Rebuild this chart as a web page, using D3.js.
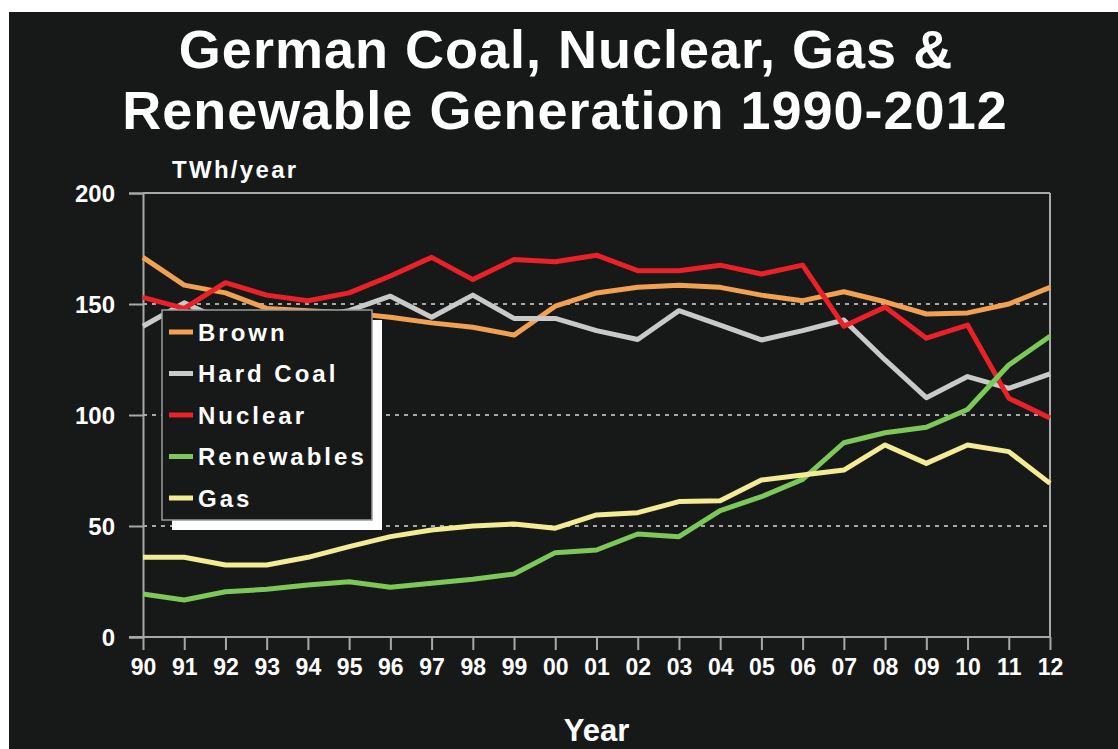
<!DOCTYPE html>
<html>
<head>
<meta charset="utf-8">
<script src="https://cdn.jsdelivr.net/npm/d3@7"></script>
<style>
  html, body { margin: 0; padding: 0; background: #ffffff; }
  svg { display: block; }
  text { font-family: "Liberation Sans", Arial, sans-serif; font-weight: bold; fill: #ffffff; }
</style>
</head>
<body>
<svg id="chart" width="1118" height="749"></svg>
<script>
const years = ["90","91","92","93","94","95","96","97","98","99","00","01","02","03","04","05","06","07","08","09","10","11","12"];
const brown      = [171,158.5,155,148,147,146,144,141.5,139.5,136,149,155,157.5,158.5,157.5,154,151.5,155.5,151,145.5,146,150,157.5];
const hardCoal   = [140,150.5,142,146,144,147,153.5,144,154,143.5,143.5,138,134,147,140.5,133.8,138,142.8,124.8,107.8,117.3,112,118.5];
const nuclear    = [153,148,159.6,154,151.5,155,162.6,171,161,170,169,172,165,165,167.5,163.5,167.5,140,148.6,134.6,140.5,107.6,98.6];
const renewables = [19.4,16.7,20.4,21.5,23.4,24.9,22.4,24.2,26,28.4,38,39.2,46.4,45.2,56.9,63.2,71,87.5,92,94.5,102.5,122.5,135.5];
const gas        = [35.9,35.9,32.4,32.4,35.9,40.7,45.2,48.2,50,50.9,49,55,56,61,61.4,70.7,73,75.2,86.5,78.2,86.5,83.5,69.2];
const yTicks = [0,50,100,150,200];
const seriesNames  = ["Brown","Hard Coal","Nuclear","Renewables","Gas"];
const seriesColors = ["#f2a052","#c9c9c9","#ea2128","#7cc95a","#f3eb95"];
const seriesValues = [brown, hardCoal, nuclear, renewables, gas];
const titleLines = ["German Coal, Nuclear, Gas &","Renewable Generation 1990-2012"];

const svg = d3.select("#chart");
svg.append("rect").attr("x",9).attr("y",12).attr("width",1118-9).attr("height",749-12).attr("fill","#171918");

const pL = 143, pR = 1050, pT = 193, pB = 637;
const x = d3.scalePoint().domain(years).range([pL, pR]);
const y = d3.scaleLinear().domain([0,200]).range([pB, pT]);

svg.append("text").attr("x",566).attr("y",68).attr("text-anchor","middle")
  .style("font-size","54px").style("letter-spacing","1px").text(titleLines[0]);
svg.append("text").attr("x",565).attr("y",129).attr("text-anchor","middle")
  .style("font-size","54px").style("letter-spacing","1px").text(titleLines[1]);
svg.append("text").attr("x",172).attr("y",178).style("font-size","24px").style("letter-spacing","2.3px").text("TWh/year");

svg.append("g").selectAll("line").data([50,100,150]).join("line")
  .attr("x1",pL).attr("x2",pR).attr("y1",d=>y(d)).attr("y2",d=>y(d))
  .attr("stroke","#a8a8a8").attr("stroke-width",2).attr("stroke-dasharray","4 5");

svg.append("line").attr("x1",pL).attr("x2",pR).attr("y1",y(200)).attr("y2",y(200)).attr("stroke","#a8a8a8").attr("stroke-width",2);
svg.append("line").attr("x1",pR).attr("x2",pR).attr("y1",pT).attr("y2",pB).attr("stroke","#a8a8a8").attr("stroke-width",2);

const yAxis = svg.append("g").attr("transform",`translate(${pL},0)`)
  .call(d3.axisLeft(y).tickValues(yTicks).tickSize(14).tickPadding(14).tickFormat(d3.format("d")));
yAxis.select(".domain").attr("stroke","#a8a8a8").attr("stroke-width",2);
yAxis.selectAll(".tick line").attr("stroke","#a8a8a8").attr("stroke-width",2);
yAxis.selectAll(".tick text").attr("fill","#ffffff").style("font-size","24px").attr("font-family",null).attr("dy","0.36em");

const xAxis = svg.append("g").attr("transform",`translate(0,${pB})`)
  .call(d3.axisBottom(x).tickSize(13).tickPadding(8));
xAxis.select(".domain").attr("stroke","#a8a8a8").attr("stroke-width",2).attr("d",`M${pL-14},0H${pR}`);
xAxis.selectAll(".tick line").attr("stroke","#a8a8a8").attr("stroke-width",2);
xAxis.selectAll(".tick text").attr("fill","#ffffff").style("font-size","23px").attr("font-family",null).attr("dy","0.75em");

svg.append("text").attr("x",(pL+pR)/2).attr("y",741).attr("text-anchor","middle").style("font-size","31px").text("Year");

const line = d3.line().x((d,i)=>x(years[i])).y(d=>y(d));
seriesValues.forEach((vals,k)=>{
  svg.append("path").datum(vals).attr("d",line).attr("fill","none")
    .attr("stroke",seriesColors[k]).attr("stroke-width",5).attr("stroke-linejoin","round");
});

const lg = svg.append("g");
lg.append("rect").attr("x",172).attr("y",320).attr("width",210).attr("height",210).attr("fill","#ffffff");
lg.append("rect").attr("x",162).attr("y",310).attr("width",210).attr("height",210).attr("fill","#171918").attr("stroke","#9a9a9a").attr("stroke-width",1.5);
seriesNames.forEach((n,i)=>{
  const yy = 332 + i*41.5;
  lg.append("line").attr("x1",169).attr("x2",193).attr("y1",yy).attr("y2",yy).attr("stroke",seriesColors[i]).attr("stroke-width",5);
  lg.append("text").attr("x",198).attr("y",yy).attr("dy","0.36em").style("font-size","24px").style("letter-spacing","3px").text(n);
});
</script>
</body>
</html>
